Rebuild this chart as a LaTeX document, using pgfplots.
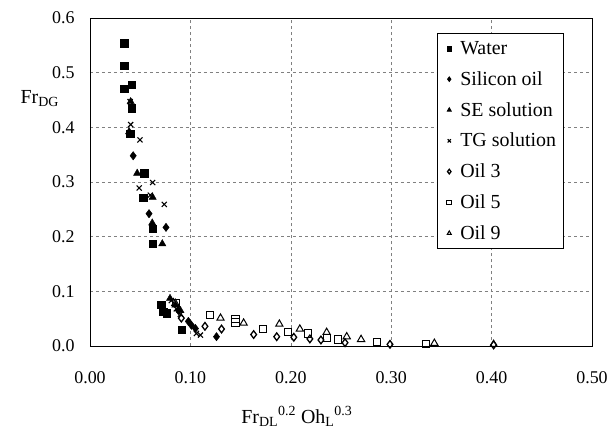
\documentclass[border=0pt]{standalone}
\usepackage{fontspec}
\setmainfont{Liberation Serif}
\usepackage{pgfplots}
\pgfplotsset{compat=1.18}
\pgfplotsset{mk/.style={only marks, legend image code/.code={\path[draw=none,fill=none] (0bp,-2bp) (16bp,2bp);\draw[mark repeat=2,mark phase=2,##1] plot coordinates {(0bp,0bp)(7bp,0bp)(14bp,0bp)};}}}
\begin{document}
\begin{tikzpicture}
\path[use as bounding box] (-90bp,-87bp) rectangle (523bp,346bp);
\begin{axis}[
  scale only axis, width=502bp, height=328bp,
  xmin=0, xmax=0.5, ymin=0, ymax=0.6,
  xtick={0,0.1,0.2,0.3,0.4,0.5},
  ytick={0,0.1,0.2,0.3,0.4,0.5,0.6},
  grid=major, grid style={dashed, gray, line width=0.5pt},
  major tick length=0pt,
  axis line style={line width=0.9pt},
  clip=false,
  /pgf/number format/assume math mode=true,
  tick label style={font=\fontsize{18}{21}\selectfont},
  x tick label style={/pgf/number format/.cd,fixed,fixed zerofill,precision=2,/tikz/.cd, anchor=base, yshift=-37bp},
  y tick label style={/pgf/number format/.cd,fixed,fixed zerofill,precision=1,/tikz/.cd, anchor=east, xshift=-12bp},
  xlabel={Fr\textsubscript{DL}\textsuperscript{0.2} Oh\textsubscript{L}\textsuperscript{0.3}},
  every axis x label/.style={at={(axis description cs:0.412,-0.235)}, anchor=base, font=\fontsize{20}{23}\selectfont},
  legend style={at={(0.691,0.954)}, anchor=north west, draw=black, line width=0.8pt,
    font=\fontsize{20}{23}\selectfont, row sep=11.5bp, inner xsep=5bp, inner ysep=6bp},
  legend cell align=left,
  legend image post style={mark size=2.3bp},
]
% Water
\addplot[mk, mark=square*, mark size=3.6bp, black] coordinates {
(0.034,0.554)(0.034,0.513)(0.034,0.470)(0.0415,0.478)(0.0415,0.435)(0.040,0.388)
(0.054,0.316)(0.053,0.272)(0.0624,0.215)(0.0624,0.187)(0.071,0.075)(0.073,0.063)
(0.076,0.060)(0.091,0.030)};
\addlegendentry{Water}
% Silicon oil
\addplot[mk, mark=diamond*, mark size=4.2bp, black] coordinates {
(0.043,0.348)(0.0588,0.242)(0.0757,0.217)(0.088,0.065)(0.098,0.045)(0.101,0.038)
(0.105,0.032)(0.126,0.017)};
\addlegendentry{Silicon oil}
% SE solution
\addplot[mk, mark=triangle*, mark size=4.2bp, black] coordinates {
(0.0405,0.447)(0.039,0.392)(0.047,0.316)(0.0624,0.272)(0.062,0.225)(0.072,0.187)
(0.0797,0.087)(0.085,0.075)(0.090,0.065)};
\addlegendentry{SE solution}
% TG solution
\addplot[mk, mark=x, mark size=3.6bp, black, line width=1.1pt] coordinates {
(0.040,0.447)(0.0405,0.405)(0.0498,0.377)(0.049,0.289)(0.0624,0.299)(0.060,0.276)
(0.074,0.259)(0.081,0.083)(0.086,0.068)(0.090,0.058)(0.106,0.023)(0.110,0.020)};
\addlegendentry{TG solution}
% Oil 3
\addplot[mk, mark=diamond, mark size=3.8bp, black, line width=1.3pt] coordinates {
(0.091,0.051)(0.1145,0.036)(0.131,0.031)(0.163,0.021)(0.186,0.017)(0.203,0.016)
(0.219,0.013)(0.230,0.011)(0.254,0.006)(0.2988,0.003)(0.402,0.002)};
\addlegendentry{Oil 3}
% Oil 5
\addplot[mk, mark=square, mark size=3.6bp, black, line width=1pt] coordinates {
(0.086,0.078)(0.1195,0.057)(0.145,0.050)(0.145,0.043)(0.1726,0.031)(0.1975,0.026)
(0.2175,0.023)(0.236,0.015)(0.247,0.012)(0.2855,0.007)(0.3347,0.004)};
\addlegendentry{Oil 5}
% Oil 9
\addplot[mk, mark=triangle, mark size=4.2bp, black, line width=1pt] coordinates {
(0.085,0.078)(0.130,0.051)(0.153,0.042)(0.1886,0.040)(0.209,0.031)(0.2357,0.025)
(0.2557,0.017)(0.27,0.012)(0.343,0.005)(0.402,0.003)};
\addlegendentry{Oil 9}
\node[font=\fontsize{20}{23}\selectfont, anchor=center] at (rel axis cs:-0.10,0.755) {Fr\textsubscript{DG}};
\end{axis}
\end{tikzpicture}
\end{document}
